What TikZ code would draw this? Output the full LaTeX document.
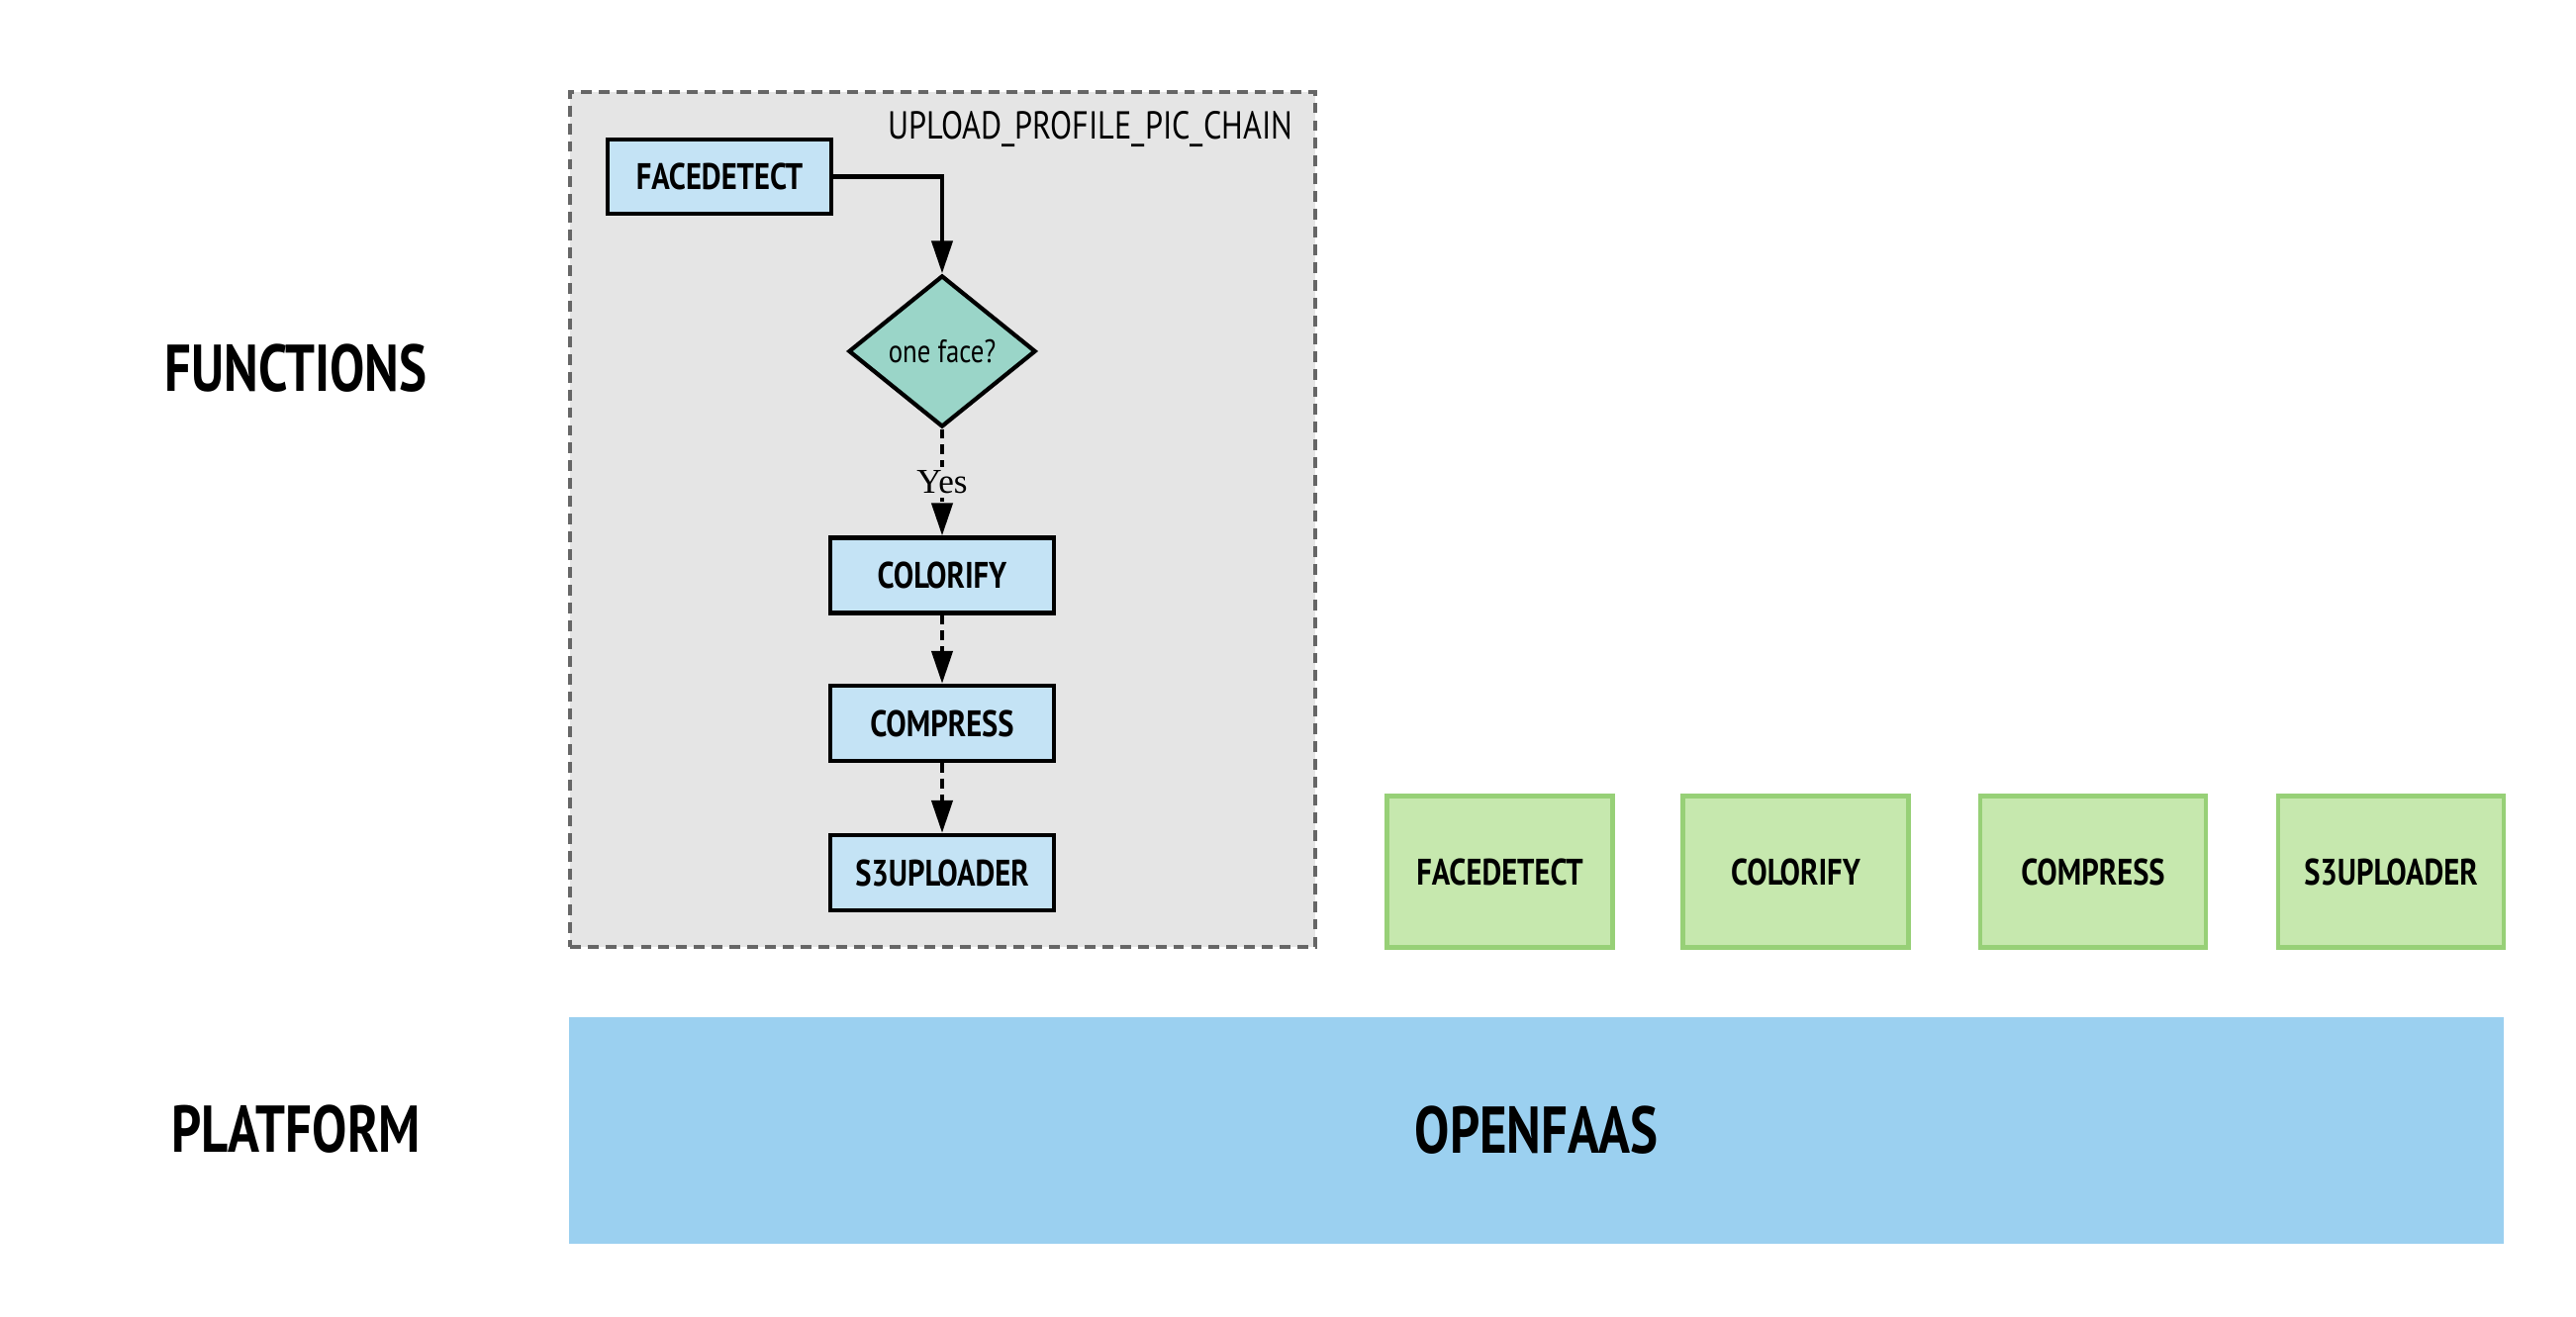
\documentclass[tikz,border=0pt]{standalone}
\usepackage{fontspec}
\usetikzlibrary{shapes.geometric,arrows.meta}
\newfontfamily\hand{PT Sans}[FakeStretch=0.82]
\newfontfamily\handlarge{PT Sans}[FakeStretch=0.79]
\newfontfamily\yesfont{Liberation Serif}
\definecolor{boxblue}{HTML}{C4E3F5}
\definecolor{decgreen}{HTML}{9AD5C8}
\definecolor{groupgray}{HTML}{E5E5E5}
\definecolor{groupline}{HTML}{666666}
\definecolor{fnfill}{HTML}{C6E8AE}
\definecolor{fnline}{HTML}{97D077}
\definecolor{barblue}{HTML}{9BD0F0}
\tikzset{
  chainbox/.style={draw=black, line width=1.2pt, fill=boxblue, minimum width=2.26cm, minimum height=0.76cm, inner sep=0pt, font=\hand\bfseries\fontsize{10.6}{12}\selectfont},
  decbox/.style={diamond, draw=black, line width=1.2pt, fill=decgreen, minimum width=1.89cm, minimum height=1.53cm, inner sep=0pt, font=\hand\fontsize{9.3}{11}\selectfont},
  groupbox/.style={draw=groupline, dash pattern=on 3.1pt off 2pt, line width=1.1pt, fill=groupgray, inner sep=0pt},
  fnbox/.style={draw=fnline, line width=1.3pt, fill=fnfill, minimum width=2.28cm, minimum height=1.53cm, inner sep=0pt, font=\hand\bfseries\fontsize{10.6}{12}\selectfont},
  layertext/.style={font=\handlarge\bfseries\fontsize{19}{22}\selectfont},
  flow/.style={line width=1.2pt, -{Triangle[length=3.3mm,width=2.1mm]}},
  dflow/.style={flow, dash pattern=on 2.8pt off 1.7pt},
}
\begin{document}
\begin{tikzpicture}[x=0.01cm, y=-0.01cm]
\useasboundingbox (0,0) rectangle (2603,1331);
% group
\node[groupbox, minimum width=7.53cm, minimum height=8.64cm] (chain) at (952.5,525) {};
\node[anchor=base east, inner sep=0pt, font=\hand\fontsize{11.2}{13}\selectfont] (chainlabel) at (1307,141) {UPLOAD\_PROFILE\_PIC\_CHAIN};
% chain nodes
\node[chainbox, minimum height=0.75cm] (fd) at (727,178.5) {FACEDETECT};
\node[decbox] (dec) at (952,355) {one face?};
\node[chainbox] (col) at (952,581.5) {COLORIFY};
\node[chainbox] (comp) at (952,731) {COMPRESS};
\node[chainbox] (s3) at (952,882) {S3UPLOADER};
% connectors
\draw[flow] (fd.east) -| (dec.north);
\draw[dflow] (dec.south) -- node[fill=groupgray, inner sep=1pt, font=\yesfont\fontsize{10}{12}\selectfont] {Yes} (col.north);
\draw[dflow] (col.south) -- (comp.north);
\draw[dflow] (comp.south) -- (s3.north);
% functions
\node[fnbox] (f1) at (1515.5,881) {FACEDETECT};
\node[fnbox] (f2) at (1814.5,881) {COLORIFY};
\node[fnbox] (f3) at (2115,881) {COMPRESS};
\node[fnbox] (f4) at (2416,881) {S3UPLOADER};
% platform
\node[fill=barblue, minimum width=19.53cm, minimum height=2.29cm, inner sep=0pt, layertext] (faas) at (1552.5,1142.5) {OPENFAAS};
% layer labels
\node[layertext] (lfun) at (299,372) {FUNCTIONS};
\node[layertext] (lplat) at (299,1141) {PLATFORM};
\end{tikzpicture}
\end{document}
